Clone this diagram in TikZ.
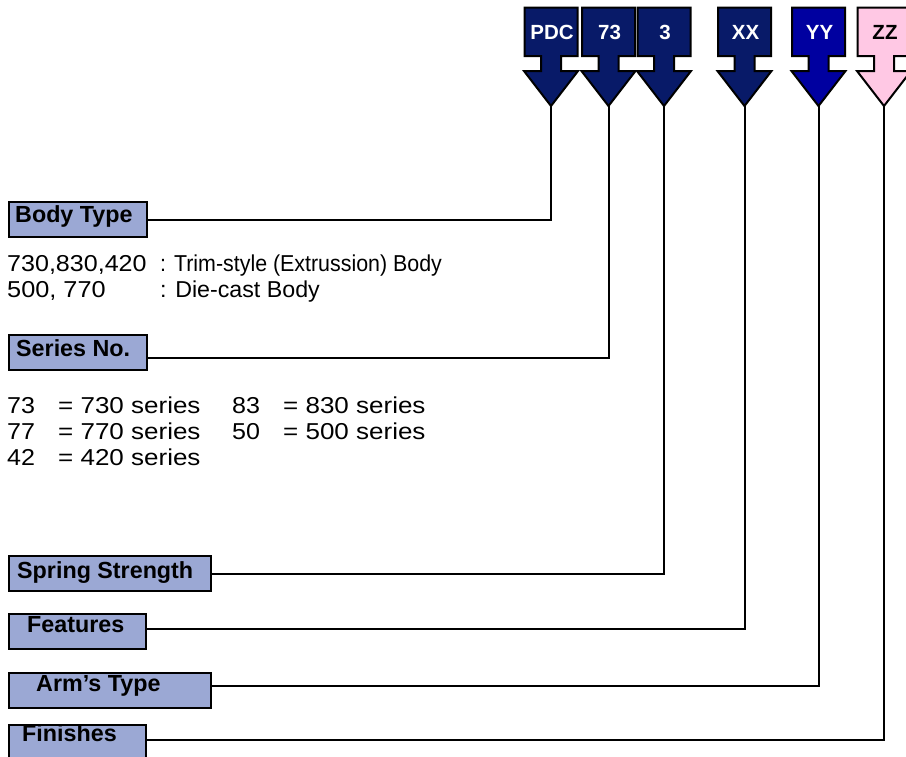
\documentclass[tikz,border=0pt]{standalone}
\usepackage{fontspec}
\usepackage{graphicx}
\setmainfont{Liberation Sans}
\definecolor{navy}{RGB}{8,26,104}
\definecolor{brightnavy}{RGB}{0,0,160}
\definecolor{pinkfill}{RGB}{255,200,228}
\definecolor{lblfill}{RGB}{155,168,212}
\tikzset{
  arrowline/.style={draw=black, line width=2pt, line join=miter},
  codetext/.style={font=\fontsize{20.5}{24}\selectfont\bfseries, inner sep=0pt, anchor=base},
  lblbox/.style={draw=black, fill=lblfill, line width=2pt, inner sep=0pt, anchor=north west, minimum height=35pt},
  lbltext/.style={font=\fontsize{23.3}{27}\selectfont\bfseries, inner sep=0pt, anchor=base west},
  desc/.style={font=\fontsize{23}{27}\selectfont, inner sep=0pt, anchor=base west},
  conn/.style={draw=black, line width=2pt}
}
\newcommand\codearrow[5]{%
  \filldraw[arrowline, fill=#3] ({#2-26.5},7.5) -- ({#2+26.5},7.5) -- ({#2+26.5},56) -- ({#2+10},56) -- ({#2+10},71) -- ({#2+27},71) -- (#2,106) -- ({#2-27},71) -- ({#2-10},71) -- ({#2-10},56) -- ({#2-26.5},56) -- cycle;
  \node[codetext, text=#4] (#1) at ({#2+1},39) {#5};
  \coordinate (#1tip) at (#2,106);
}
\newcommand\sx[2]{\scalebox{#1}[1]{#2}}
\begin{document}
\begin{tikzpicture}[x=1pt,y=-1pt]
\useasboundingbox (0,0) rectangle (906,756);
\clip (0,0) rectangle (906,756);
\fill[white] (0,0) rectangle (906,756);

% code arrows
\codearrow{aPDC}{551}{navy}{white}{PDC}
\codearrow{aSer}{608.5}{navy}{white}{73}
\codearrow{aSpr}{664}{navy}{white}{3}
\codearrow{aFea}{744.5}{navy}{white}{XX}
\codearrow{aArm}{818.5}{brightnavy}{white}{YY}
\codearrow{aFin}{884}{pinkfill}{black}{ZZ}

% label boxes
\node[lblbox, minimum width=138pt] (lbody) at (8,201) {};
\node[lblbox, minimum width=138pt] (lser) at (8,334) {};
\node[lblbox, minimum width=202pt] (lspr) at (8,555) {};
\node[lblbox, minimum width=137pt] (lfea) at (8,613) {};
\node[lblbox, minimum width=202pt] (larm) at (8,672) {};
\node[lblbox, minimum width=137pt] (lfin) at (8,724) {};

\node[lbltext] (tbody) at (15,222) {Body Type};
\node[lbltext] (tser) at (16,356) {Series No.};
\node[lbltext] (tspr) at (17,578) {Spring Strength};
\node[lbltext] (tfea) at (27,632) {Features};
\node[lbltext] (tarm) at (36,691) {Arm’s Type};
\node[lbltext] (tfin) at (22,741) {Finishes};

% connectors
\draw[conn] (aPDCtip) |- (lbody.east);
\draw[conn] (aSertip) |- ([yshift=-5pt]lser.east);
\draw[conn] (aSprtip) |- (lspr.east);
\draw[conn] (aFeatip) |- ([yshift=2.5pt]lfea.east);
\draw[conn] (aArmtip) |- ([yshift=5pt]larm.east);
\draw[conn] (aFintip) |- ([yshift=2.5pt]lfin.east);

% body type description
\node[desc] (d1a) at (7,271) {\sx{1.09}{730,830,420}};
\node[desc] (d1b) at (160,271) {\sx{0.93}{: Trim-style (Extrussion) Body}};
\node[desc] (d2a) at (7,297) {\sx{1.1}{500, 770}};
\node[desc] (d2b) at (160,297) {\sx{1.01}{: Die-cast Body}};

% series description
\node[desc] (s1a) at (7,413) {\sx{1.09}{73}};
\node[desc] (s1b) at (58,413) {\sx{1.13}{= 730 series}};
\node[desc] (s1c) at (232,413) {\sx{1.09}{83}};
\node[desc] (s1d) at (283,413) {\sx{1.13}{= 830 series}};
\node[desc] (s2a) at (7,439) {\sx{1.09}{77}};
\node[desc] (s2b) at (58,439) {\sx{1.13}{= 770 series}};
\node[desc] (s2c) at (232,439) {\sx{1.09}{50}};
\node[desc] (s2d) at (283,439) {\sx{1.13}{= 500 series}};
\node[desc] (s3a) at (7,465) {\sx{1.09}{42}};
\node[desc] (s3b) at (58,465) {\sx{1.13}{= 420 series}};
\end{tikzpicture}
\end{document}
